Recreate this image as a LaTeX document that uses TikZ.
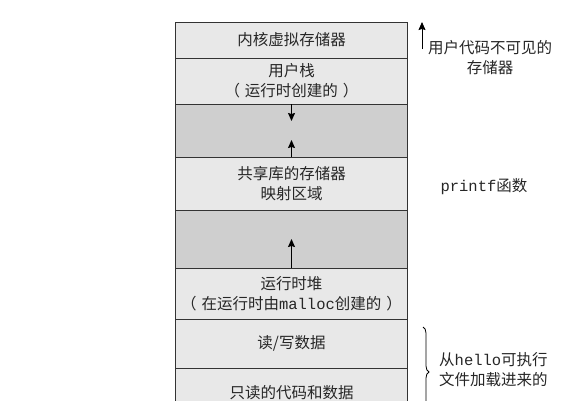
\documentclass[tikz,border=0pt]{standalone}
\usepackage{fontspec}
\setmainfont{Noto Sans CJK SC}
\newfontfamily\mono{Liberation Mono}
\usetikzlibrary{arrows.meta,decorations.pathreplacing}
\definecolor{lightrow}{HTML}{E8E8E8}
\definecolor{darkrow}{HTML}{CFCFCF}
\definecolor{edge}{HTML}{333333}
\newcommand{\lpar}{（\hspace{5pt}}
\newcommand{\rpar}{\hspace{5pt}）}
\begin{document}
\begin{tikzpicture}[x=1pt,y=-1pt,
  font=\fontsize{15.5}{20}\selectfont,
  row/.style={draw=edge,line width=0.8pt,minimum width=232pt,inner sep=0pt,align=center,text=black!85},
  light/.style={row,fill=lightrow},
  dark/.style={row,fill=darkrow},
  arr/.style={-{Stealth[length=8pt,width=7pt,inset=1pt]},line width=0.9pt,draw=black},
  note/.style={align=center,text=black!85,inner sep=0pt}]
\useasboundingbox (0,0) rectangle (566,400);
\clip (0,0) rectangle (566,400);
\fill[white] (0,0) rectangle (566,400);
\node[light,minimum height=36pt] (kern) at (291.5,40) {内核虚拟存储器};
\node[light,minimum height=46pt] (stack) at (291.5,81) {用户栈\\\lpar 运行时创建的\rpar};
\node[dark,minimum height=53pt] (gap1) at (291.5,130.5) {};
\node[light,minimum height=53pt] (shlib) at (291.5,183.5) {共享库的存储器\\映射区域};
\node[dark,minimum height=58pt] (gap2) at (291.5,239) {};
\node[light,minimum height=51pt] (heap) at (291.5,293.5) {运行时堆\\\lpar 在运行时由{\mono malloc}创建的\rpar};
\node[light,minimum height=49pt] (rw) at (291.5,343.5) {读/写数据};
\node[light,minimum height=50pt] (ro) at (291.5,393) {只读的代码和数据};
\coordinate (a1) at (291.5,121);
\coordinate (a2) at (291.5,140);
\coordinate (a3) at (291.5,239);
\draw[arr] (stack.south) -- (a1);
\draw[arr] (shlib.north) -- (a2);
\draw[arr] (heap.north) -- (a3);
\coordinate (k1) at (422,49);
\coordinate (k2) at (422,22);
\draw[arr] (k1) -- (k2);
\node[note,anchor=west] (knote) at (428,58) {用户代码不可见的\\存储器};
\node[note] (pf) at (484,187) {{\mono printf}函数};
\coordinate (b1) at (423,327);
\coordinate (b2) at (423,417);
\draw[decorate,decoration={brace,amplitude=6pt},line width=0.8pt] (b1) -- (b2);
\node[note,anchor=west] (hnote) at (439,370) {从{\mono hello}可执行\\文件加载进来的};
\end{tikzpicture}
\end{document}
